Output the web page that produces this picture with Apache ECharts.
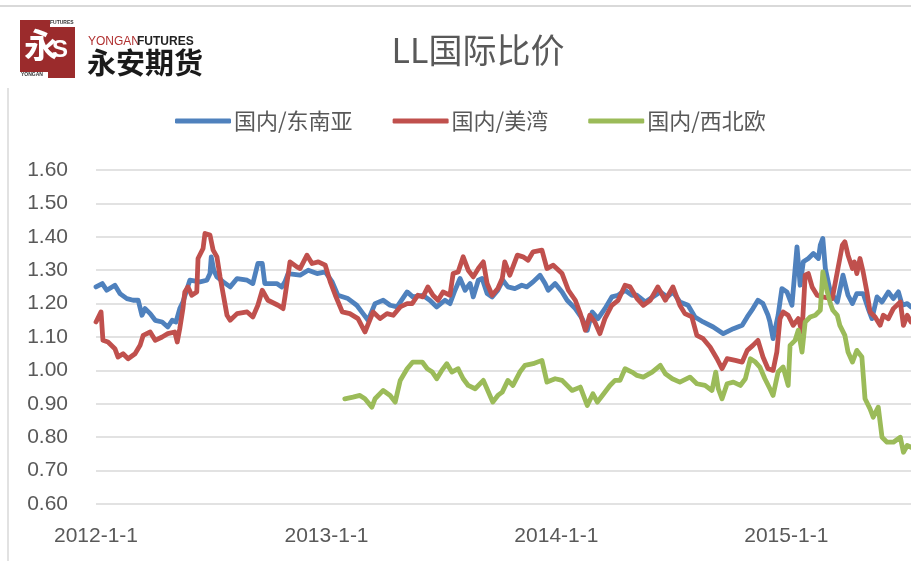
<!DOCTYPE html>
<html>
<head>
<meta charset="utf-8">
<title>LL国际比价</title>
<script src="https://cdn.jsdelivr.net/npm/echarts@6/dist/echarts.min.js"></script>
<style>
  html, body { margin: 0; padding: 0; background: #fff; }
  #main { width: 911px; height: 561px; }
</style>
</head>
<body>
<div id="main"></div>
<script>
// days counted from 2012-01-01
const seaDays = [0, 10, 17, 30, 38, 49, 59, 67, 73, 78, 86, 94, 105, 114, 121, 127, 133, 138, 149, 165, 176, 181, 183, 187, 192, 202, 213, 224, 240, 249, 257, 264, 268, 287, 295, 300, 305, 324, 337, 351, 364, 375, 384, 400, 414, 424, 432, 443, 456, 467, 478, 494, 503, 519, 530, 541, 554, 562, 570, 578, 586, 594, 599, 607, 613, 621, 629, 638, 646, 654, 665, 676, 684, 694, 705, 713, 718, 729, 740, 748, 761, 772, 780, 788, 797, 808, 819, 829, 840, 851, 859, 872, 884, 896, 907, 916, 927, 940, 951, 964, 980, 996, 1012, 1026, 1034, 1043, 1051, 1059, 1067, 1070, 1075, 1083, 1089, 1097, 1105, 1113, 1118, 1123, 1131, 1139, 1147, 1150, 1154, 1158, 1166, 1177, 1186, 1194, 1201, 1208, 1218, 1226, 1232, 1240, 1248, 1258, 1266, 1274, 1280, 1288, 1294];
const seaValues = [1.25, 1.26, 1.24, 1.255, 1.23, 1.215, 1.21, 1.21, 1.165, 1.185, 1.17, 1.15, 1.145, 1.13, 1.15, 1.145, 1.185, 1.205, 1.27, 1.265, 1.27, 1.29, 1.34, 1.30, 1.28, 1.265, 1.25, 1.275, 1.27, 1.26, 1.32, 1.32, 1.26, 1.26, 1.25, 1.265, 1.29, 1.285, 1.30, 1.29, 1.295, 1.265, 1.225, 1.215, 1.195, 1.17, 1.15, 1.20, 1.21, 1.195, 1.19, 1.235, 1.22, 1.225, 1.21, 1.19, 1.21, 1.20, 1.24, 1.275, 1.24, 1.26, 1.22, 1.27, 1.275, 1.23, 1.22, 1.24, 1.27, 1.25, 1.245, 1.255, 1.25, 1.265, 1.285, 1.26, 1.24, 1.26, 1.235, 1.21, 1.185, 1.155, 1.12, 1.175, 1.155, 1.185, 1.22, 1.225, 1.24, 1.225, 1.225, 1.205, 1.22, 1.235, 1.22, 1.235, 1.205, 1.195, 1.16, 1.145, 1.13, 1.11, 1.125, 1.135, 1.16, 1.185, 1.21, 1.20, 1.165, 1.145, 1.095, 1.165, 1.245, 1.235, 1.195, 1.37, 1.255, 1.325, 1.335, 1.35, 1.335, 1.375, 1.395, 1.305, 1.235, 1.205, 1.285, 1.225, 1.20, 1.23, 1.23, 1.185, 1.155, 1.22, 1.205, 1.235, 1.215, 1.235, 1.195, 1.20, 1.19];

const usDays = [0, 8, 11, 19, 30, 35, 43, 51, 62, 70, 75, 86, 94, 105, 114, 125, 129, 133, 138, 141, 146, 152, 160, 162, 170, 173, 181, 186, 192, 197, 208, 213, 224, 240, 249, 257, 264, 273, 289, 297, 300, 308, 319, 324, 335, 343, 353, 364, 372, 380, 391, 403, 416, 419, 427, 430, 440, 451, 462, 472, 483, 494, 502, 511, 519, 527, 535, 543, 551, 562, 567, 575, 583, 591, 599, 607, 615, 621, 629, 638, 645, 649, 657, 669, 678, 686, 694, 708, 716, 726, 740, 750, 761, 769, 777, 784, 792, 800, 808, 819, 829, 840, 848, 859, 869, 880, 892, 904, 916, 927, 935, 946, 954, 964, 975, 986, 994, 1002, 1015, 1026, 1034, 1043, 1051, 1059, 1067, 1075, 1081, 1086, 1091, 1099, 1107, 1115, 1121, 1126, 1131, 1137, 1145, 1153, 1169, 1177, 1185, 1189, 1194, 1201, 1204, 1208, 1213, 1218, 1224, 1229, 1237, 1245, 1250, 1258, 1266, 1277, 1282, 1288, 1294];
const usValues = [1.145, 1.175, 1.09, 1.085, 1.065, 1.04, 1.05, 1.035, 1.05, 1.075, 1.105, 1.115, 1.09, 1.10, 1.11, 1.115, 1.085, 1.125, 1.185, 1.235, 1.25, 1.225, 1.235, 1.335, 1.365, 1.41, 1.405, 1.36, 1.34, 1.28, 1.165, 1.15, 1.17, 1.175, 1.16, 1.195, 1.24, 1.21, 1.195, 1.185, 1.22, 1.325, 1.31, 1.305, 1.345, 1.32, 1.325, 1.315, 1.265, 1.225, 1.175, 1.17, 1.155, 1.16, 1.115, 1.11, 1.175, 1.155, 1.17, 1.165, 1.19, 1.20, 1.20, 1.225, 1.22, 1.25, 1.225, 1.21, 1.235, 1.225, 1.29, 1.295, 1.34, 1.30, 1.28, 1.305, 1.325, 1.26, 1.225, 1.245, 1.275, 1.325, 1.285, 1.345, 1.34, 1.33, 1.355, 1.36, 1.305, 1.315, 1.29, 1.24, 1.21, 1.17, 1.12, 1.165, 1.145, 1.11, 1.155, 1.195, 1.21, 1.255, 1.25, 1.215, 1.195, 1.21, 1.25, 1.21, 1.25, 1.195, 1.17, 1.16, 1.105, 1.095, 1.07, 1.035, 1.005, 1.035, 1.03, 1.025, 1.06, 1.075, 1.09, 1.04, 1.005, 1.00, 1.055, 1.155, 1.175, 1.165, 1.135, 1.155, 1.115, 1.285, 1.29, 1.25, 1.225, 1.22, 1.215, 1.295, 1.375, 1.385, 1.345, 1.305, 1.325, 1.29, 1.335, 1.295, 1.235, 1.175, 1.16, 1.135, 1.165, 1.155, 1.185, 1.205, 1.135, 1.165, 1.145];

const nweDays = [395, 408, 419, 427, 438, 443, 456, 467, 475, 483, 494, 503, 518, 526, 534, 541, 549, 557, 565, 575, 583, 591, 602, 615, 622, 630, 638, 645, 654, 662, 673, 681, 694, 708, 716, 729, 740, 756, 769, 780, 789, 796, 804, 816, 824, 832, 840, 851, 859, 869, 883, 896, 904, 915, 927, 943, 954, 967, 978, 984, 988, 994, 1002, 1012, 1023, 1031, 1039, 1047, 1054, 1062, 1070, 1075, 1083, 1091, 1099, 1102, 1110, 1115, 1121, 1126, 1134, 1142, 1150, 1154, 1161, 1166, 1170, 1177, 1181, 1189, 1194, 1201, 1208, 1216, 1221, 1229, 1234, 1242, 1248, 1256, 1266, 1277, 1282, 1288, 1294];
const nweValues = [0.915, 0.92, 0.925, 0.915, 0.89, 0.915, 0.94, 0.925, 0.905, 0.97, 1.005, 1.025, 1.025, 1.005, 0.995, 0.975, 1.00, 1.02, 0.995, 1.005, 0.975, 0.955, 0.945, 0.97, 0.94, 0.905, 0.925, 0.935, 0.97, 0.955, 0.995, 1.015, 1.02, 1.03, 0.965, 0.975, 0.97, 0.94, 0.95, 0.895, 0.93, 0.905, 0.925, 0.955, 0.97, 0.97, 1.005, 0.995, 0.985, 0.98, 0.995, 1.015, 0.99, 0.975, 0.965, 0.98, 0.96, 0.955, 0.94, 0.995, 0.945, 0.915, 0.96, 0.965, 0.955, 0.975, 1.035, 1.025, 1.01, 0.975, 0.945, 0.925, 0.995, 1.01, 0.955, 1.075, 1.09, 1.12, 1.055, 1.145, 1.16, 1.165, 1.18, 1.295, 1.235, 1.20, 1.18, 1.165, 1.135, 1.105, 1.055, 1.025, 1.06, 1.04, 0.915, 0.885, 0.86, 0.89, 0.80, 0.785, 0.785, 0.80, 0.755, 0.775, 0.77];

const seriesNames = ['国内/东南亚', '国内/美湾', '国内/西北欧'];
const colors = ['#4F81BD', '#C0504D', '#9BBB59'];
const lastDay = 1294;

function toTime(d) {
  return new Date(2012, 0, 1 + d).getTime();
}
function pairs(days, values) {
  return days.map((d, i) => [toTime(d), values[i]]);
}

const textColor = '#595959';
const font = "'Liberation Sans', 'Noto Sans CJK SC', sans-serif";
const cjkFont = "'Noto Sans CJK SC', sans-serif";

const options = {
  animation: false,
  backgroundColor: '#fff',
  color: colors,
  title: {
    text: 'LL国际比价',
    left: 473,
    textAlign: 'center',
    top: 28,
    textStyle: { color: textColor, fontSize: 34, fontWeight: 'normal', fontFamily: cjkFont }
  },
  legend: {
    top: 105,
    left: 170,
    icon: 'roundRect',
    itemWidth: 56,
    itemHeight: 5,
    itemGap: 40,
    textStyle: { color: textColor, fontSize: 22, fontFamily: cjkFont, padding: [0, 0, 0, -2] },
    data: seriesNames
  },
  grid: { left: 96, right: 0, top: 170, bottom: 57, containLabel: false },
  xAxis: {
    type: 'time',
    min: toTime(0),
    max: toTime(lastDay),
    minInterval: 365 * 86400000,
    axisLine: { show: false },
    axisTick: { show: false },
    splitLine: { show: false },
    axisLabel: {
      color: textColor,
      fontSize: 21,
      fontFamily: font,
      margin: 22,
      formatter: (v) => new Date(v).getFullYear() + '-1-1'
    }
  },
  yAxis: {
    type: 'value',
    min: 0.6,
    max: 1.6,
    interval: 0.1,
    axisLine: { show: false },
    axisTick: { show: false },
    splitLine: { lineStyle: { color: '#d9d9d9', width: 1.5 } },
    axisLabel: {
      color: textColor,
      fontSize: 21,
      fontFamily: font,
      margin: 28,
      formatter: (v) => v.toFixed(2)
    }
  },
  series: [
    { name: seriesNames[0], type: 'line', data: pairs(seaDays, seaValues) },
    { name: seriesNames[1], type: 'line', data: pairs(usDays, usValues) },
    { name: seriesNames[2], type: 'line', data: pairs(nweDays, nweValues) }
  ].map((s) => Object.assign(s, {
    showSymbol: false,
    symbol: 'none',
    lineStyle: { width: 4.8, join: 'round', cap: 'round' }
  })),
  graphic: [
    { type: 'line', shape: { x1: 0, y1: 6, x2: 911, y2: 6 }, style: { stroke: '#d9d9d9', lineWidth: 2 } },
    { type: 'line', shape: { x1: 8, y1: 88, x2: 8, y2: 561 }, style: { stroke: '#d9d9d9', lineWidth: 1.5 } },
    // logo block
    { type: 'rect', shape: { x: 20, y: 20, width: 55, height: 58 }, style: { fill: '#9b2b2c' } },
    { type: 'text', left: 24, top: 28, style: { text: '永', fill: '#fff', font: "bold 34px 'Noto Sans CJK SC'" } },
    { type: 'text', left: 52, top: 38, style: { text: 'S', fill: '#fff', font: "bold 24px 'Liberation Sans'" } },
    { type: 'rect', shape: { x: 50, y: 20, width: 25, height: 7 }, style: { fill: '#fff' } },
    { type: 'text', left: 50, top: 20, style: { text: 'FUTURES', fill: '#333', font: "bold 5px 'Liberation Sans'" } },
    { type: 'rect', shape: { x: 20, y: 72, width: 28, height: 6 }, style: { fill: '#fff' } },
    { type: 'text', left: 21, top: 72, style: { text: 'YONGAN', fill: '#333', font: "bold 5px 'Liberation Sans'" } },
    { type: 'text', left: 88, top: 36, style: { text: 'YONGAN', fill: '#b03030', font: "12px 'Liberation Sans'" } },
    { type: 'text', left: 137, top: 36, style: { text: 'FUTURES', fill: '#222', font: "bold 12px 'Liberation Sans'" } },
    { type: 'text', left: 87, top: 48, style: { text: '永安期货', fill: '#1a1a1a', font: "bold 29px 'Noto Sans CJK SC'" } }
  ]
};

var myChart = echarts.init(document.getElementById('main'));
myChart.setOption(options);
window.onresize = function () {
  myChart.resize();
};
</script>
</body>
</html>
